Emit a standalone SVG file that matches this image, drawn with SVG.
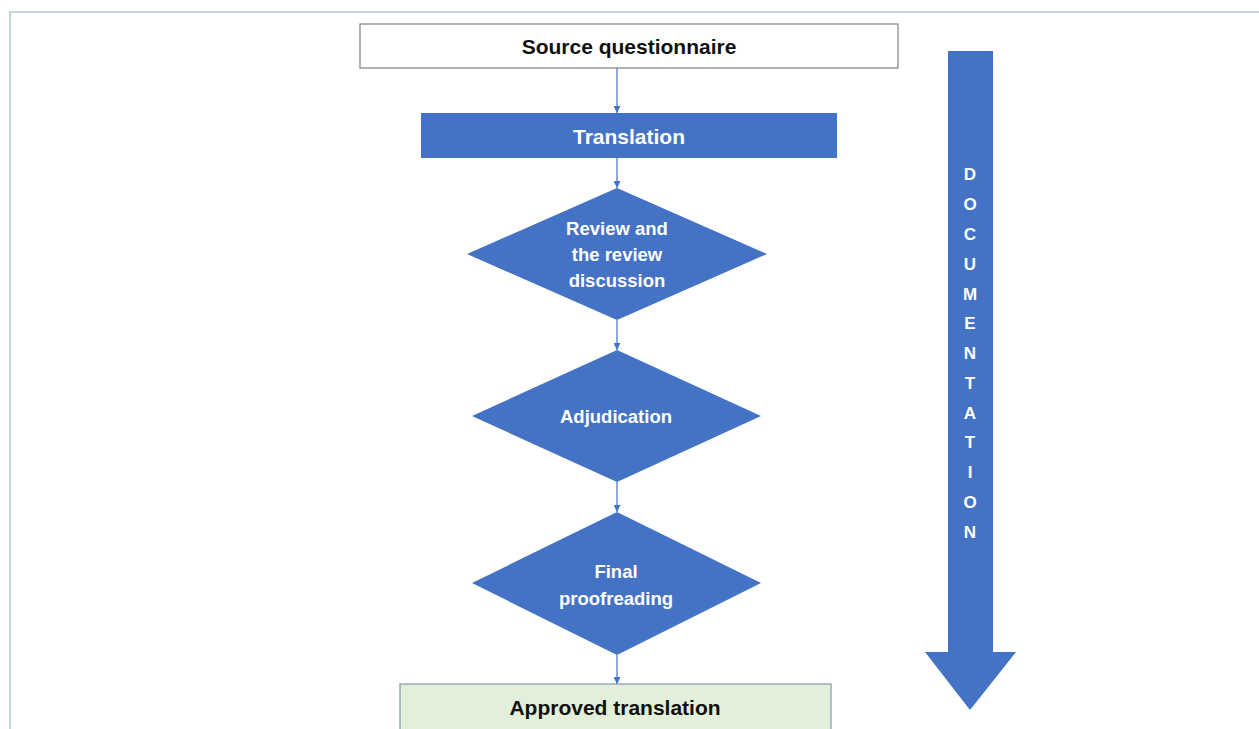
<svg xmlns="http://www.w3.org/2000/svg" width="1259" height="729" viewBox="0 0 1259 729">
<defs>
<style>
.lbl{font-family:"Liberation Sans",Arial,sans-serif;font-weight:bold;text-anchor:middle;dominant-baseline:central}
.w{fill:#ffffff;font-size:18.5px}
.k{fill:#111111;font-size:21px}
.blue{fill:#4472c4}
.conn{stroke:#4472c4;stroke-width:1.2;fill:none;marker-end:url(#ah)}
.doc{font-family:"Liberation Sans",Arial,sans-serif;font-weight:bold;fill:#ffffff;font-size:17px;text-anchor:middle;dominant-baseline:central}
</style>
<marker id="ah" viewBox="0 0 10 10" refX="10" refY="5" markerWidth="7" markerHeight="7" markerUnits="userSpaceOnUse" orient="auto">
<path d="M0,0 L10,5 L0,10 z" fill="#4472c4"/>
</marker>
</defs>
<rect width="1259" height="729" fill="#ffffff"/>
<rect id="frame" x="10" y="12" width="1260" height="730" fill="none" stroke="#b9c3cf" stroke-width="1.5"/>
<g id="connectors">
<line class="conn" x1="617" y1="68" x2="617" y2="113"/>
<line class="conn" x1="617" y1="158" x2="617" y2="188"/>
<line class="conn" x1="617" y1="320" x2="617" y2="350"/>
<line class="conn" x1="617" y1="482" x2="617" y2="512"/>
<line class="conn" x1="617" y1="655" x2="617" y2="684"/>
</g>
<g id="source">
<rect x="360" y="24" width="538" height="44" fill="#ffffff" stroke="#7f7f7f" stroke-width="1.2"/>
<text class="lbl k" x="629" y="46">Source questionnaire</text>
</g>
<g id="translation">
<rect class="blue" x="421" y="113" width="416" height="45"/>
<text class="lbl w" x="629" y="136" style="font-size:21px">Translation</text>
</g>
<g id="review">
<polygon class="blue" points="617,188 767,254 617,320 467,254"/>
<text class="lbl w" x="617" y="228">Review and</text>
<text class="lbl w" x="617" y="254">the review</text>
<text class="lbl w" x="617" y="280">discussion</text>
</g>
<g id="adjudication">
<polygon class="blue" points="617,350 761,416 617,482 472,416"/>
<text class="lbl w" x="616" y="416">Adjudication</text>
</g>
<g id="proofreading">
<polygon class="blue" points="617,512 761,583 617,655 472,583"/>
<text class="lbl w" x="616" y="571">Final</text>
<text class="lbl w" x="616" y="598">proofreading</text>
</g>
<g id="approved">
<rect x="400" y="684" width="431" height="50" fill="#e2efd9" stroke="#8497b0" stroke-width="1.2"/>
<text class="lbl k" x="615" y="707">Approved translation</text>
</g>
<g id="documentation">
<polygon class="blue" points="948,51 993,51 993,652 1016,652 970,710 925,652 948,652"/>
<text class="doc" x="970" y="174">D</text>
<text class="doc" x="970" y="204">O</text>
<text class="doc" x="970" y="234">C</text>
<text class="doc" x="970" y="264">U</text>
<text class="doc" x="970" y="294">M</text>
<text class="doc" x="970" y="323">E</text>
<text class="doc" x="970" y="353">N</text>
<text class="doc" x="970" y="383">T</text>
<text class="doc" x="970" y="413">A</text>
<text class="doc" x="970" y="442">T</text>
<text class="doc" x="970" y="472">I</text>
<text class="doc" x="970" y="502">O</text>
<text class="doc" x="970" y="532">N</text>
</g>
</svg>
